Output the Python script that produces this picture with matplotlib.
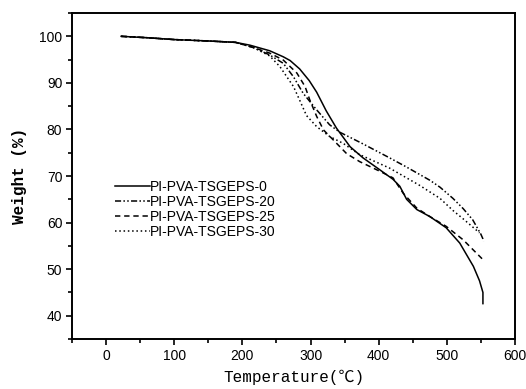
import matplotlib
matplotlib.use('Agg')
import matplotlib.pyplot as plt
from matplotlib.ticker import MultipleLocator

# TGA curves (temperature in C, weight in %)
t_0 = [22, 60, 100, 150, 190, 211, 240, 260, 270, 284, 298, 309, 323, 338, 358, 377,
       402, 421, 431, 441, 456, 475, 499, 519, 539, 548, 553, 553]
w_0 = [100, 99.7, 99.3, 99.0, 98.7, 98.1, 96.9, 95.6, 94.8, 93.0, 90.5, 88.0, 84.0, 80.3, 76.3, 73.9,
       71.3, 69.3, 67.8, 65.0, 62.8, 61.3, 58.9, 55.6, 50.6, 47.5, 45.0, 42.6]

t_20 = [22, 60, 100, 150, 190, 216, 240, 260, 275, 289, 309, 328, 343, 358, 377,
        416, 440, 475, 490, 509, 524, 538, 550, 553, 554]
w_20 = [100, 99.7, 99.3, 99.0, 98.7, 97.6, 96.0, 94.2, 91.3, 87.8, 84.2, 81.0, 79.4, 78.3, 76.9,
        73.9, 72.0, 69.1, 67.6, 65.2, 63.0, 60.6, 57.5, 56.5, 56.0]

t_25 = [22, 60, 100, 150, 190, 216, 240, 260, 280, 292, 299, 309, 319, 333, 343,
        353, 372, 402, 421, 436, 456, 475, 499, 524, 552]
w_25 = [100, 99.7, 99.3, 99.0, 98.7, 97.6, 96.4, 94.9, 92.1, 89.2, 86.3, 82.8, 79.9, 77.8, 76.3,
        74.8, 73.1, 71.0, 69.6, 66.3, 63.1, 61.3, 59.2, 56.3, 52.2]

t_30 = [22, 60, 100, 150, 190, 216, 240, 255, 275, 284, 294, 309, 328, 348, 372,
        416, 460, 490, 509, 524, 548]
w_30 = [100, 99.7, 99.3, 99.0, 98.7, 97.6, 95.8, 93.5, 89.2, 86.3, 83.0, 80.6, 78.5, 77.0, 74.6,
        71.7, 68.0, 65.2, 62.6, 60.8, 57.8]

labels = ['PI-PVA-TSGEPS-0', 'PI-PVA-TSGEPS-20', 'PI-PVA-TSGEPS-25', 'PI-PVA-TSGEPS-30']

fig = plt.figure(figsize=(5.26, 3.89), dpi=100)
ax = fig.add_axes([0.137, 0.1285, 0.842, 0.838])

lw = 1.1
ax.plot(t_0, w_0, color='black', lw=lw, label=labels[0])
ax.plot(t_20, w_20, color='black', lw=lw, dashes=(4, 1.5, 1, 1.5, 1, 1.5), label=labels[1])
ax.plot(t_25, w_25, color='black', lw=lw, dashes=(3.5, 2.5), label=labels[2])
ax.plot(t_30, w_30, color='black', lw=lw, dashes=(1, 1.8), label=labels[3])

ax.set_xlim(-50, 600)
ax.set_ylim(35, 105)
ax.xaxis.set_major_locator(MultipleLocator(100))
ax.xaxis.set_minor_locator(MultipleLocator(50))
ax.yaxis.set_major_locator(MultipleLocator(10))
ax.yaxis.set_minor_locator(MultipleLocator(5))
ax.tick_params(which='major', direction='out', length=4.5, width=1.2, pad=2.5,
               labelsize=10, top=False, right=False)
ax.tick_params(which='minor', direction='out', length=3, width=1.2, top=False, right=False)
for lab in ax.get_xticklabels() + ax.get_yticklabels():
    lab.set_family('Liberation Sans')
for sp in ax.spines.values():
    sp.set_linewidth(1.4)

ax.set_xlabel('Temperature(℃)', family=['Liberation Mono', 'Noto Sans CJK SC'],
              fontsize=11.5, labelpad=5)
ax.set_ylabel('Weight (%)', family=['Liberation Mono', 'Noto Sans CJK SC'],
              fontsize=11.5, fontweight='bold', labelpad=9)

leg = ax.legend(loc='upper left', bbox_to_anchor=(0.097, 0.489), frameon=False,
                handlelength=2.5, handletextpad=0, labelspacing=0.08,
                borderaxespad=0, borderpad=0,
                prop={'family': 'Liberation Sans', 'size': 10})

fig.savefig('out.png', dpi=100)
